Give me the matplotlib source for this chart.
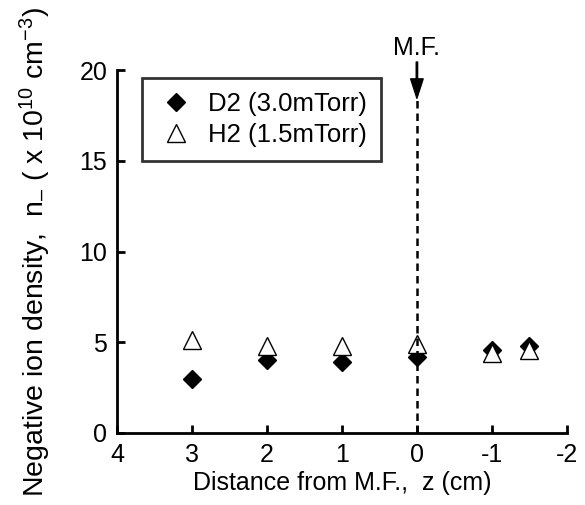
import matplotlib
matplotlib.use('Agg')
import matplotlib.pyplot as plt

plt.rcParams['font.family'] = ['Liberation Sans', 'DejaVu Sans']
plt.rcParams['mathtext.fontset'] = 'custom'
plt.rcParams['mathtext.rm'] = 'Liberation Sans'
plt.rcParams['mathtext.it'] = 'Liberation Sans'

# data
z_d2 = [3, 2, 1, 0, -1, -1.5]
n_d2 = [3.0, 4.0, 3.9, 4.2, 4.6, 4.8]
z_h2 = [3, 2, 1, 0, -1, -1.5]
n_h2 = [5.1, 4.8, 4.8, 4.9, 4.4, 4.6]

xticks = [4, 3, 2, 1, 0, -1, -2]
yticks = [0, 5, 10, 15, 20]

fig = plt.figure(figsize=(5.85, 5.05), dpi=100)
ax = fig.add_axes([0.2, 0.1426, 0.769, 0.7184])

ax.plot(z_d2, n_d2, 'D', color='black', markersize=9, linestyle='none',
        label='D2 (3.0mTorr)')
ax.plot(z_h2, n_h2, '^', markerfacecolor='white', markeredgecolor='black',
        markersize=13, markeredgewidth=1.0, linestyle='none',
        label='H2 (1.5mTorr)')

ax.set_xlim(4, -2)
ax.set_ylim(0, 20)
ax.set_xticks(xticks)
ax.set_xticklabels([str(t) for t in xticks])
ax.set_yticks(yticks)

for s in ['top', 'right']:
    ax.spines[s].set_visible(False)
for s in ['left', 'bottom']:
    ax.spines[s].set_linewidth(2)
ax.tick_params(direction='in', length=6, width=2, labelsize=18, pad=7)

# magnetic filter position
ax.plot([0, 0], [0, 18.5], color='black', linestyle=(0, (3, 2)),
        linewidth=1.8, clip_on=False)
ax.annotate('', xy=(0, 18.45), xytext=(0, 20.45),
            arrowprops=dict(facecolor='black', edgecolor='black', width=1.0,
                            headwidth=9, headlength=14, shrink=0),
            annotation_clip=False)
ax.text(0, 21.2, 'M.F.', ha='center', va='center', fontsize=18)

ax.set_xlabel('Distance from M.F.,  z (cm)', fontsize=18, labelpad=3)
ax.set_ylabel('Negative ion density,  n$_{\\mathrm{\u2013}}$ ( x 10$^{10}$ cm$^{-3}$)',
              fontsize=20.5, labelpad=19)

leg = ax.legend(loc='upper left', bbox_to_anchor=(0.056, 0.978),
                borderaxespad=0, fontsize=18.5, frameon=True, fancybox=False,
                handletextpad=0.5, borderpad=0.55, labelspacing=0.25,
                handlelength=1.5, markerscale=1.0)
leg.get_frame().set_edgecolor('black')
leg.get_frame().set_linewidth(2)

fig.savefig('out.png', dpi=100)
